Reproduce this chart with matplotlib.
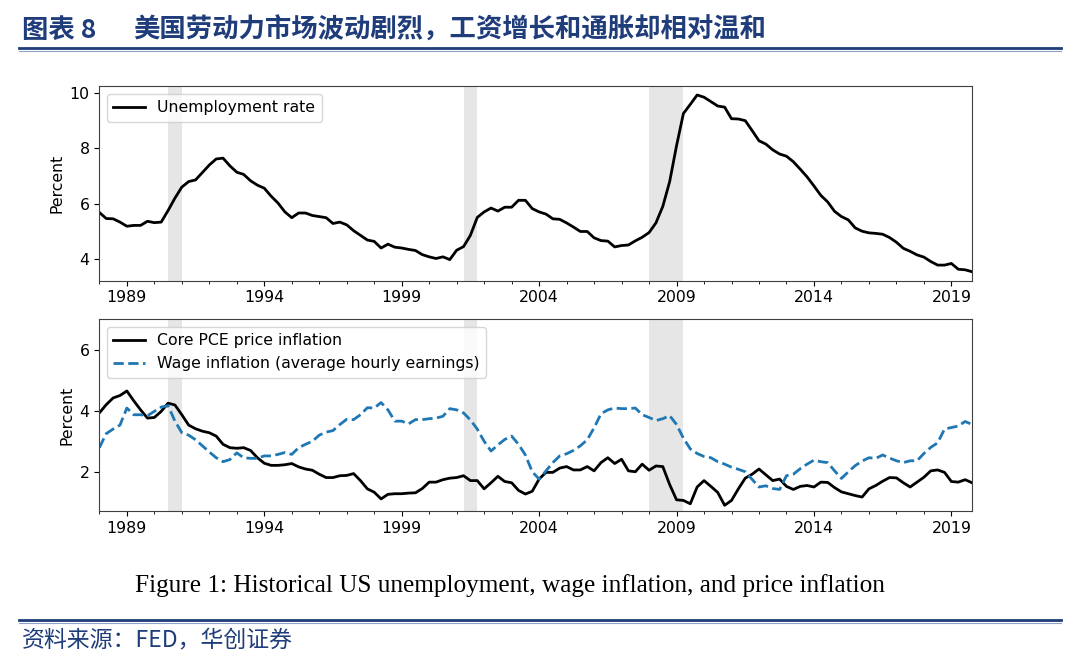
import numpy as np
import pandas as pd
import matplotlib
matplotlib.use("Agg")
import matplotlib.pyplot as plt
from matplotlib.ticker import FixedLocator, MultipleLocator
from matplotlib.lines import Line2D

# 季度数据 1988Q1 - 2019Q4
quarters = pd.period_range("1988Q1", "2019Q4", freq="Q")

unemployment = [
    5.68, 5.46, 5.45, 5.33,  5.18, 5.21, 5.21, 5.36,  5.31, 5.33, 5.75, 6.20,
    6.60, 6.80, 6.86, 7.13,  7.40, 7.62, 7.65, 7.37,  7.14, 7.06, 6.83, 6.67,
    6.56, 6.27, 6.02, 5.70,  5.49, 5.66, 5.66, 5.57,  5.53, 5.49, 5.28, 5.33,
    5.23, 5.02, 4.85, 4.68,  4.63, 4.39, 4.53, 4.42,  4.39, 4.34, 4.30, 4.15,
    4.07, 4.01, 4.07, 3.97,  4.31, 4.44, 4.85, 5.50,  5.70, 5.84, 5.73, 5.87,
    5.87, 6.12, 6.12, 5.82,  5.70, 5.62, 5.45, 5.43,  5.30, 5.15, 4.99, 4.99,
    4.76, 4.66, 4.64, 4.43,  4.48, 4.50, 4.65, 4.78,  4.95, 5.30, 5.90, 6.80,
    8.10, 9.27, 9.60, 9.94,  9.86, 9.70, 9.54, 9.50,  9.08, 9.07, 9.01, 8.65,
    8.28, 8.16, 7.95, 7.80,  7.72, 7.52, 7.25, 6.97,  6.64, 6.30, 6.06, 5.72,
    5.53, 5.41, 5.12, 5.00,  4.94, 4.92, 4.89, 4.77,  4.60, 4.38, 4.27, 4.14,
    4.06, 3.90, 3.77, 3.77,  3.83, 3.62, 3.60, 3.53,
]

core_pce = [
    3.93, 4.20, 4.42, 4.50,  4.65, 4.33, 4.03, 3.76,  3.78, 3.98, 4.25, 4.19,
    3.87, 3.53, 3.41, 3.33,  3.28, 3.17, 2.90, 2.79,  2.77, 2.79, 2.70, 2.46,
    2.28, 2.21, 2.21, 2.23,  2.27, 2.16, 2.09, 2.05,  1.92, 1.81, 1.81, 1.87,
    1.88, 1.94, 1.71, 1.44,  1.33, 1.11, 1.26, 1.28,  1.28, 1.30, 1.31, 1.45,
    1.66, 1.66, 1.74, 1.79,  1.81, 1.87, 1.71, 1.71,  1.44, 1.64, 1.85, 1.68,
    1.64, 1.39, 1.27, 1.36,  1.76, 1.98, 1.98, 2.12,  2.17, 2.06, 2.06, 2.17,
    2.03, 2.30, 2.46, 2.27,  2.41, 2.03, 2.00, 2.25,  2.05, 2.19, 2.17, 1.58,
    1.08, 1.06, 0.95, 1.50,  1.71, 1.52, 1.32, 0.90,  1.06, 1.44, 1.79, 1.92,
    2.09, 1.90, 1.71, 1.76,  1.52, 1.42, 1.52, 1.55,  1.50, 1.66, 1.65, 1.48,
    1.34, 1.28, 1.22, 1.17,  1.44, 1.55, 1.69, 1.81,  1.80, 1.64, 1.50, 1.66,
    1.82, 2.03, 2.06, 1.98,  1.68, 1.66, 1.74, 1.64,
]

wage_inflation = [
    2.79, 3.25, 3.40, 3.53,  4.09, 3.87, 3.87, 3.84,  3.98, 4.12, 4.17, 3.66,
    3.28, 3.20, 3.05, 2.85,  2.65, 2.46, 2.33, 2.40,  2.62, 2.46, 2.44, 2.44,
    2.52, 2.52, 2.57, 2.63,  2.57, 2.79, 2.90, 3.00,  3.20, 3.30, 3.35, 3.55,
    3.72, 3.71, 3.87, 4.10,  4.09, 4.27, 4.03, 3.66,  3.66, 3.57, 3.71, 3.71,
    3.74, 3.76, 3.82, 4.07,  4.03, 3.93, 3.70, 3.40,  3.00, 2.68, 2.88, 3.06,
    3.17, 2.90, 2.55, 2.00,  1.76, 2.03, 2.30, 2.52,  2.59, 2.70, 2.85, 3.05,
    3.44, 3.90, 4.03, 4.09,  4.07, 4.07, 4.09, 3.87,  3.78, 3.68, 3.74, 3.84,
    3.55, 3.10, 2.75, 2.60,  2.50, 2.46, 2.33, 2.25,  2.15, 2.08, 2.00, 1.75,
    1.50, 1.54, 1.45, 1.42,  1.87, 1.92, 2.10, 2.25,  2.38, 2.33, 2.30, 2.03,
    1.78, 2.00, 2.20, 2.35,  2.46, 2.44, 2.55, 2.45,  2.36, 2.30, 2.36, 2.36,
    2.60, 2.80, 2.95, 3.40,  3.45, 3.50, 3.65, 3.55,
]

recessions = [(1990.5, 1991.0), (2001.25, 2001.75), (2008.0, 2009.25)]
tick_years = [1989, 1994, 1999, 2004, 2009, 2014, 2019]

title_label = "图表 8"
title_text = "美国劳动力市场波动剧烈，工资增长和通胀却相对温和"
caption_text = "Figure 1: Historical US unemployment, wage inflation, and price inflation"
source_text = "资料来源：FED，华创证券"

navy = "#1f3d7a"
cjk = ["Noto Sans CJK SC", "DejaVu Sans"]
x = np.array([q.year + (q.quarter - 1) / 4 for q in quarters])

plt.rcParams["font.family"] = ["DejaVu Sans"]
plt.rcParams["font.size"] = 11.3

fig = plt.figure(figsize=(10.8, 6.68), dpi=100)
ax1 = fig.add_axes([0.092, 0.580, 0.808, 0.291])
ax2 = fig.add_axes([0.092, 0.235, 0.808, 0.287])


def style_axis(ax):
    for a, b in recessions:
        ax.axvspan(a, b, color="0.9", lw=0, zorder=0)
    ax.set_xlim(x[0], x[-1])
    ax.xaxis.set_major_locator(FixedLocator(tick_years))
    ax.xaxis.set_minor_locator(MultipleLocator(1))
    ax.set_xticklabels([str(t) for t in tick_years])
    ax.set_ylabel("Percent")
    for s in ax.spines.values():
        s.set_color("0.25")


ax1.plot(x, unemployment, color="black", lw=2, label="Unemployment rate")
ax1.set_yticks([4, 6, 8, 10])
style_axis(ax1)
ax1.legend(loc="upper left")

ax2.plot(x, core_pce, color="black", lw=2, label="Core PCE price inflation")
ax2.plot(x, wage_inflation, color="#1f77b4", lw=2, ls="--",
         label="Wage inflation (average hourly earnings)")
ax2.set_ylim(top=7)
ax2.set_yticks([2, 4, 6])
style_axis(ax2)
ax2.legend(loc="upper left")

# 标题与分隔线
fig.text(0.02, 0.955, title_label, color=navy, fontsize=19, fontweight="bold",
         family=cjk, va="center", ha="left")
fig.text(0.123, 0.955, title_text, color=navy, fontsize=19, fontweight="bold",
         family=cjk, va="center", ha="left")
fig.add_artist(Line2D([0.018, 0.982], [0.928, 0.928], color=navy, lw=2))
fig.add_artist(Line2D([0.018, 0.982], [0.923, 0.923], color="#8fa3c8", lw=0.8))

fig.text(0.472, 0.123, caption_text, fontsize=18.2, family="Liberation Serif",
         ha="center", va="center", color="black")

fig.add_artist(Line2D([0.018, 0.982], [0.072, 0.072], color=navy, lw=2))
fig.add_artist(Line2D([0.018, 0.982], [0.067, 0.067], color="#8fa3c8", lw=0.8))
fig.text(0.02, 0.042, source_text, color=navy, fontsize=16.5,
         family=cjk, va="center", ha="left")

fig.savefig("out.png", dpi=100)
